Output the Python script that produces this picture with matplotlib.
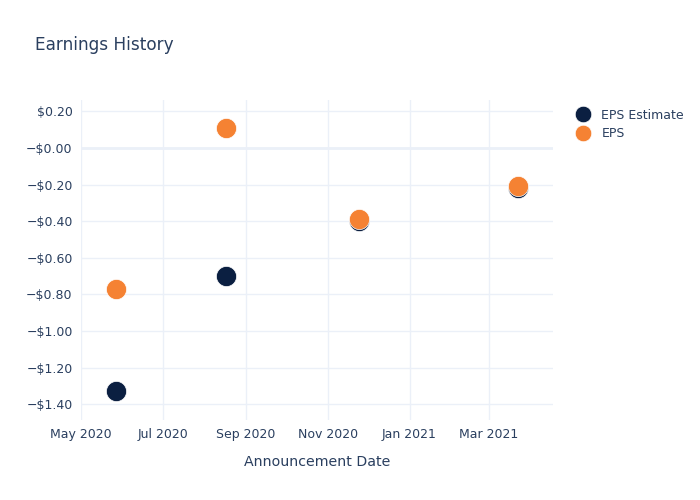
import matplotlib
matplotlib.use('Agg')
import matplotlib.pyplot as plt
import matplotlib.dates as mdates
from datetime import datetime

dates = ['2020-05-27', '2020-08-17', '2020-11-24', '2021-03-23']
eps_estimate = [-1.33, -0.70, -0.40, -0.22]
eps_actual = [-0.77, 0.11, -0.39, -0.21]

yticks = [0.2, 0.0, -0.2, -0.4, -0.6, -0.8, -1.0, -1.2, -1.4]
ytick_labels = ['$0.20', '\u2212$0.00', '\u2212$0.20', '\u2212$0.40', '\u2212$0.60',
                '\u2212$0.80', '\u2212$1.00', '\u2212$1.20', '\u2212$1.40']

x = [datetime.strptime(d, '%Y-%m-%d') for d in dates]
txt = '#2a3f5f'
grid = '#ebf0f8'

fig = plt.figure(figsize=(7, 5), dpi=100)
ax = fig.add_axes([0.1157, 0.16, 0.6743, 0.64])

ax.plot(x, eps_estimate, 'o', color='#0b1f41', markersize=14.5,
        markeredgecolor='white', markeredgewidth=0.5, label='EPS Estimate', zorder=3)
ax.plot(x, eps_actual, 'o', color='#f58233', markersize=14.5,
        markeredgecolor='white', markeredgewidth=0.5, label='EPS', zorder=4)

ax.set_xlim(datetime(2020, 5, 1), datetime(2021, 4, 18))
ax.set_ylim(-1.486, 0.262)
ax.set_yticks(yticks)
ax.set_yticklabels(ytick_labels)
ax.xaxis.set_major_locator(mdates.MonthLocator(bymonth=[1, 3, 5, 7, 9, 11]))
ax.xaxis.set_major_formatter(mdates.DateFormatter('%b %Y'))

ax.grid(True, color=grid, linewidth=1)
ax.axhline(0, color=grid, linewidth=2, zorder=1)
ax.set_axisbelow(True)
for s in ax.spines.values():
    s.set_visible(False)
ax.tick_params(length=0, labelsize=9, colors=txt, pad=6)

ax.set_xlabel('Announcement Date', fontsize=10.2, color=txt, labelpad=10)
fig.text(0.05, 0.91, 'Earnings History', fontsize=12.2, color=txt, va='center')

leg = ax.legend(loc='upper left', bbox_to_anchor=(1.018, 1.0), frameon=False,
                fontsize=9, handletextpad=0.5, labelspacing=0.45, borderaxespad=0.3,
                markerscale=0.82)
for t in leg.get_texts():
    t.set_color(txt)

fig.savefig('out.png', dpi=100)
